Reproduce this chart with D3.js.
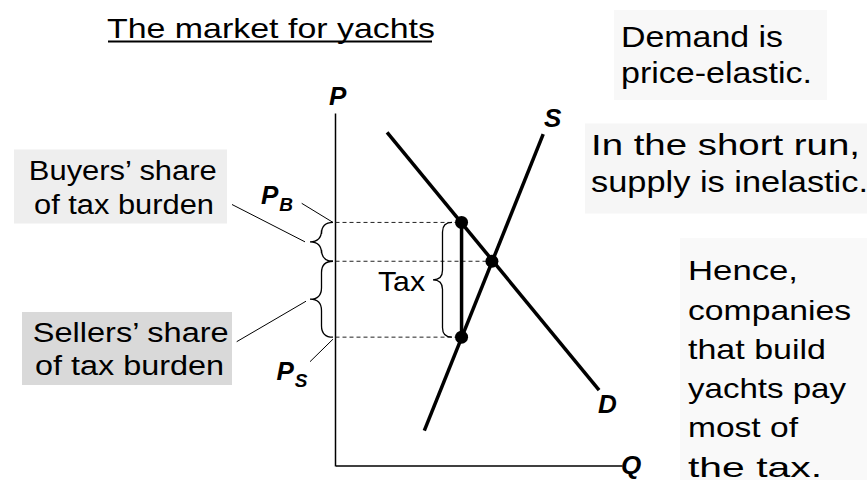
<!DOCTYPE html>
<html>
<head>
<meta charset="utf-8">
<script src="https://cdn.jsdelivr.net/npm/d3@7"></script>
<style>
  body { margin: 0; background: #fff; }
  text { font-family: "Liberation Sans", Arial, sans-serif; }
</style>
</head>
<body>
<div id="chart"></div>
<script>
// model values (Q, P units on a 0..10 grid)
const demand = [{q: 1.8, p: 9.45}, {q: 9.2, p: 2.15}];
const supply = [{q: 3.1, p: 1.0}, {q: 7.25, p: 9.4}];
const priceBuyers = {q: 4.4, p: 6.9};
const equilibrium = {q: 5.46, p: 5.8};
const priceSellers = {q: 4.4, p: 3.65};

const titleText = "The market for yachts";
const demandNote = ["Demand is", "price-elastic."];
const supplyNote = ["In the short run,", "supply is inelastic."];
const conclusion = ["Hence,", "companies", "that build", "yachts pay", "most of", "the tax."];
const buyersNote = ["Buyers\u2019 share", "of tax burden"];
const sellersNote = ["Sellers\u2019 share", "of tax burden"];

const width = 867, height = 480;

const svg = d3.select("#chart").append("svg")
    .attr("width", width)
    .attr("height", height);

const x = d3.scaleLinear().domain([0, 10]).range([335.5, 622]);
const y = d3.scaleLinear().domain([0, 10]).range([466, 113]);

// text boxes
function box(x0, y0, w, h, fill){
    svg.append("rect")
        .attr("x", x0).attr("y", y0)
        .attr("width", w).attr("height", h)
        .attr("fill", fill);
}

function lines(strs, x0, baselines, size, lens, xs){
    strs.forEach((s, i) => {
        svg.append("text")
            .attr("x", xs ? xs[i] : x0)
            .attr("y", baselines[i])
            .attr("font-size", size)
            .attr("textLength", lens[i])
            .attr("lengthAdjust", "spacingAndGlyphs")
            .attr("fill", "#000")
            .text(s);
    });
}

box(614, 10, 213, 90, "#f8f8f8");
box(585, 123.5, 282, 90, "#f6f6f6");
box(680, 238, 187, 242, "#f9f9f9");
box(14, 149.5, 213, 74, "#eeeeee");
box(22, 312, 210, 73, "#d9d9d9");

// title
lines([titleText], 107, [37.5], 28, [328]);
svg.append("line")
    .attr("x1", 108).attr("x2", 432)
    .attr("y1", 41.5).attr("y2", 41.5)
    .attr("stroke", "#000").attr("stroke-width", 1.8);

lines(demandNote, 621, [46.5, 83], 29, [162, 191]);
lines(supplyNote, 591, [155, 191.5], 30, [269, 277]);
lines(conclusion, 688, [280, 319.5, 358.5, 398, 437, 476.5], 28, [110, 163, 138, 158, 110, 134]);
lines(buyersNote, 0, [179.5, 214], 27, [188, 180], [28.8, 34]);
lines(sellersNote, 0, [341.7, 375], 27, [196, 189], [32.7, 35]);

// axes (no ticks)
svg.append("g")
    .attr("transform", `translate(${x(0) - 0.5},0)`)
    .call(d3.axisLeft(y).tickValues([]).tickSizeOuter(0))
    .select(".domain").attr("stroke-width", 1.5);

svg.append("g")
    .attr("transform", `translate(0,${y(0) - 0.5})`)
    .call(d3.axisBottom(x).tickValues([]).tickSizeOuter(0))
    .select(".domain").attr("stroke-width", 1.5);

// dashed guides
[priceBuyers, equilibrium, priceSellers].forEach(d => {
    svg.append("line")
        .attr("x1", x(0)).attr("x2", x(d.q))
        .attr("y1", y(d.p)).attr("y2", y(d.p))
        .attr("stroke", "#222")
        .attr("stroke-width", 1)
        .attr("stroke-dasharray", "4,3");
});

const line = d3.line().x(d => x(d.q)).y(d => y(d.p));

svg.append("path").datum(demand)
    .attr("d", line)
    .attr("fill", "none").attr("stroke", "#000").attr("stroke-width", 3.5);

svg.append("path").datum(supply)
    .attr("d", line)
    .attr("fill", "none").attr("stroke", "#000").attr("stroke-width", 3.5);

// tax wedge
svg.append("path").datum([priceBuyers, priceSellers])
    .attr("d", line)
    .attr("fill", "none").attr("stroke", "#000").attr("stroke-width", 3.5);

svg.selectAll(".dot")
    .data([priceBuyers, equilibrium, priceSellers])
    .join("circle")
    .attr("class", "dot")
    .attr("cx", d => x(d.q))
    .attr("cy", d => y(d.p))
    .attr("r", 6.5)
    .attr("fill", "#000");

// curly braces, tip pointing left
function brace(xTip, xEnd, y0, y1){
    const xm = (xTip + xEnd) / 2, ym = (y0 + y1) / 2, r = (xEnd - xTip) / 2;
    const p = d3.path();
    p.moveTo(xEnd, y0);
    p.quadraticCurveTo(xm, y0, xm, y0 + r);
    p.lineTo(xm, ym - r);
    p.quadraticCurveTo(xm, ym, xTip, ym);
    p.quadraticCurveTo(xm, ym, xm, ym + r);
    p.lineTo(xm, y1 - r);
    p.quadraticCurveTo(xm, y1, xEnd, y1);
    svg.append("path")
        .attr("d", p.toString())
        .attr("fill", "none")
        .attr("stroke", "#000")
        .attr("stroke-width", 1.3);
    return ym;
}

const yB = y(priceBuyers.p), yE = y(equilibrium.p), yS = y(priceSellers.p);
const midBuy = brace(310, 333, yB, yE);
const midSell = brace(310, 333, yE, yS);
brace(433, 452, yB, yS);

lines(["Tax"], 378, [290.7], 28, [47]);

// leader lines
function leader(x1, y1, x2, y2){
    svg.append("line")
        .attr("x1", x1).attr("y1", y1)
        .attr("x2", x2).attr("y2", y2)
        .attr("stroke", "#000").attr("stroke-width", 1);
}
leader(232, 204.5, 305, midBuy);
leader(236.7, 341.7, 306, midSell + 2);
leader(301.7, 203.3, 333, yB);
leader(310, 361.7, 333, yS + 2);

// italic bold labels
function label(t, sub, x0, y0){
    const el = svg.append("text")
        .attr("x", x0).attr("y", y0)
        .attr("font-size", 26)
        .attr("font-weight", "bold")
        .attr("font-style", "italic")
        .text(t);
    if (sub) {
        el.append("tspan")
            .attr("font-size", 19)
            .attr("dy", 7)
            .attr("dx", 1)
            .text(sub);
    }
}
label("P", null, 329, 105);
label("S", null, 544, 126.7);
label("D", null, 598, 413.3);
label("Q", null, 621, 474);
label("P", "B", 261, 204);
label("P", "S", 276.5, 380);
</script>
</body>
</html>
